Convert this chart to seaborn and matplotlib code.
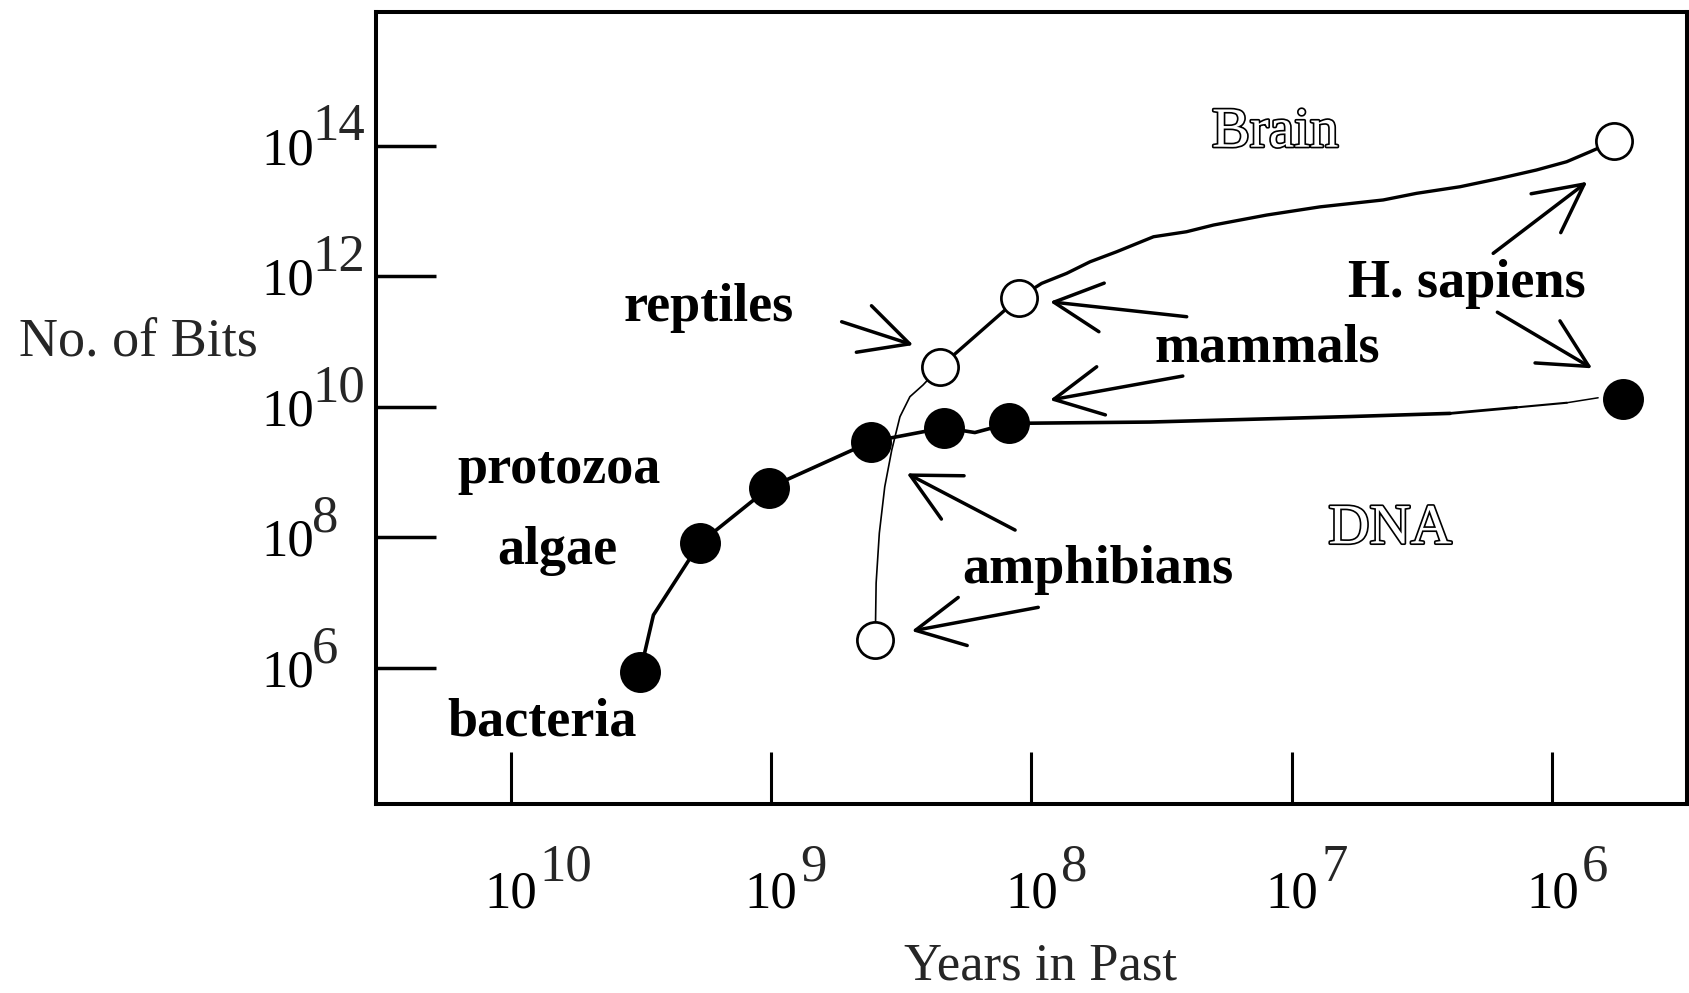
import numpy as np
import matplotlib
matplotlib.use("Agg")
import matplotlib.pyplot as plt
import matplotlib.patheffects as pe
from matplotlib.patches import ArrowStyle
import seaborn as sns

# DNA content (filled dots): bacteria, algae, protozoa, ..., H. sapiens
dna_years = [3.18e9, 1.88e9, 1.02e9, 4.14e8, 2.16e8, 1.22e8, 5.36e5]
dna_bits = [8.7e5, 8.1e7, 5.75e8, 2.92e9, 4.79e9, 5.58e9, 1.32e10]

# brain content (open circles): amphibians, reptiles, mammals, H. sapiens
brain_years = [3.98e8, 2.24e8, 1.12e8, 5.79e5]
brain_bits = [2.67e6, 4.11e10, 4.65e11, 1.18e14]

# hand drawn curve through the DNA points
dna_curve_years = [3.18e9, 2.83e9, 1.88e9, 1.02e9, 4.14e8, 2.16e8, 1.65e8, 1.22e8,
                   3.51e7, 5.98e6, 2.47e6, 1.37e6, 8.79e5, 6.67e5]
dna_curve_bits = [8.7e5, 6.46e6, 8.1e7, 5.75e8, 2.92e9, 4.79e9, 4.04e9, 5.58e9,
                  5.85e9, 7.10e9, 7.94e9, 9.82e9, 1.156e10, 1.377e10]

# thin brain curve: amphibians -> reptiles
brain_thin_years = [3.98e8, 3.95e8, 3.84e8, 3.66e8, 3.44e8, 3.20e8, 2.93e8, 2.61e8, 2.24e8]
brain_thin_bits = [2.67e6, 2.00e7, 1.16e8, 5.97e8, 2.18e9, 7.05e9, 1.43e10, 2.16e10, 4.11e10]

# thick brain curve: reptiles -> mammals -> H. sapiens
brain_thick_years = [2.24e8, 1.12e8, 9.14e7, 7.33e7, 5.96e7, 4.71e7, 3.40e7, 2.54e7,
                     2.00e7, 1.25e7, 7.80e6, 4.46e6, 3.32e6, 2.26e6, 1.59e6, 1.15e6,
                     8.81e5, 7.16e5, 5.79e5]
brain_thick_bits = [4.11e10, 4.65e11, 7.80e11, 1.11e12, 1.67e12, 2.38e12, 4.04e12, 4.82e12,
                    6.11e12, 8.69e12, 1.16e13, 1.48e13, 1.87e13, 2.36e13, 3.17e13, 4.26e13,
                    5.70e13, 8.11e13, 1.18e14]

x_ticks = [1e10, 1e9, 1e8, 1e7, 1e6]
x_exps = ["10", "9", "8", "7", "6"]
y_ticks = [1e6, 1e8, 1e10, 1e12, 1e14]
y_exps = ["6", "8", "10", "12", "14"]

# bold labels: text, log10(years), log10(bits) of the baseline centre
labels = [
    ("reptiles", 9.240, 11.315),
    ("mammals", 7.093, 10.691),
    ("H. sapiens", 6.329, 11.687),
    ("protozoa", 9.813, 8.832),
    ("algae", 9.821, 7.591),
    ("amphibians", 7.746, 7.295),
    ("bacteria", 9.881, 4.960),
]
outline_labels = [("Brain", 7.064, 13.986), ("DNA", 6.623, 7.908)]

# arrows: (tail, tip) in log10 coordinates
arrows = [
    ((8.729, 11.304), (8.454, 10.947)),
    ((8.063, 8.112), (8.479, 8.981)),
    ((7.974, 6.928), (8.460, 6.565)),
    ((7.404, 11.381), (7.929, 11.610)),
    ((7.419, 10.472), (7.929, 10.104)),
    ((6.227, 12.352), (5.866, 13.449)),
    ((6.211, 11.450), (5.847, 10.590)),
]

sns.set_theme(style="white")
plt.rcParams["font.family"] = ["Liberation Serif", "DejaVu Serif"]

fig = plt.figure(figsize=(16.9, 9.93), dpi=100)
ax = fig.add_axes([0.2225, 0.1903, 0.7757, 0.7976])
ax.set_xscale("log")
ax.set_yscale("log")

# curves
n_main = 11
sns.lineplot(x=dna_curve_years[:n_main], y=dna_curve_bits[:n_main], sort=False,
             estimator=None, color="black", lw=2.6, ax=ax)
for i, w in zip(range(n_main - 1, len(dna_curve_years) - 1), [2.0, 1.5, 1.1]):
    sns.lineplot(x=dna_curve_years[i:i + 2], y=dna_curve_bits[i:i + 2], sort=False,
                 estimator=None, color="black", lw=w, ax=ax)
sns.lineplot(x=brain_thin_years, y=brain_thin_bits, sort=False, estimator=None,
             color="black", lw=1.2, ax=ax)
sns.lineplot(x=brain_thick_years, y=brain_thick_bits, sort=False, estimator=None,
             color="black", lw=2.4, ax=ax)

# points
sns.scatterplot(x=dna_years, y=dna_bits, s=870, color="black", linewidth=0,
                ax=ax, zorder=5)
sns.scatterplot(x=brain_years, y=brain_bits, s=680, color="white", edgecolor="black",
                linewidth=1.95, ax=ax, zorder=6)

# labels
for txt, lx, ly in labels:
    ax.text(10 ** lx, 10 ** ly, txt, fontsize=39, fontweight="bold", ha="center",
            va="baseline", color="black")
for txt, lx, ly in outline_labels:
    ax.text(10 ** lx, 10 ** ly, txt, fontsize=41, ha="center", va="baseline",
            color="white",
            path_effects=[pe.withStroke(linewidth=2.4, foreground="black")])

head = ArrowStyle("->", head_length=3.46, head_width=1.76)
for (tx, ty), (hx, hy) in arrows:
    ax.annotate("", xy=(10 ** hx, 10 ** hy), xytext=(10 ** tx, 10 ** ty),
                arrowprops=dict(arrowstyle=head, mutation_scale=10, lw=2.5,
                                color="black", shrinkA=0, shrinkB=0))

# axes
ax.set_xlim(10 ** 10.517, 10 ** 5.483)
ax.set_ylim(10 ** 3.914, 10 ** 16.05)
ax.minorticks_off()
ax.set_xticks(x_ticks)
ax.set_xticklabels(["10"] * len(x_ticks))
ax.set_yticks(y_ticks)
ax.set_yticklabels(["10"] * len(y_ticks))
ax.tick_params(axis="x", direction="in", length=37.5, width=2.2, pad=48,
               labelsize=38, bottom=True, top=False, colors="black")
ax.tick_params(axis="y", direction="in", length=43, width=2.5, pad=44.5,
               labelsize=38, left=True, right=False, colors="black")
for t, e in zip(x_ticks, x_exps):
    ax.annotate(e, xy=(t, 0), xycoords=ax.get_xaxis_transform(), xytext=(21, -42),
                textcoords="offset points", ha="left", va="center_baseline",
                fontsize=38, annotation_clip=False)
for t, e in zip(y_ticks, y_exps):
    ax.annotate(e, xy=(0, t), xycoords=ax.get_yaxis_transform(), xytext=(-46, 17.5),
                textcoords="offset points", ha="left", va="center_baseline",
                fontsize=38, annotation_clip=False)

for side in ["left", "right", "top", "bottom"]:
    ax.spines[side].set_visible(True)
    ax.spines[side].set_color("black")
    ax.spines[side].set_linewidth(2.9)

ax.set_xlabel("Years in Past", fontsize=38, va="baseline", ha="center")
ax.xaxis.set_label_coords(0.5065, -0.221)
ax.set_ylabel("No. of Bits", fontsize=39, rotation=0, va="baseline", ha="center")
ax.yaxis.set_label_coords(-0.1812, 0.5657)
ax.grid(False)

fig.savefig("out.png", dpi=100, facecolor="white")
